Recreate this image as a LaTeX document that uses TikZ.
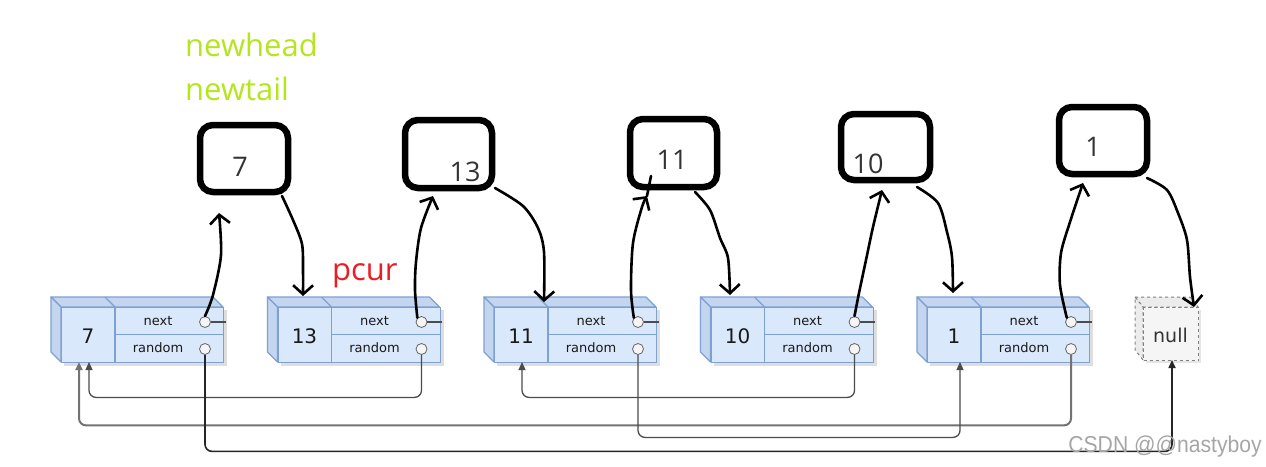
\documentclass[tikz,border=0pt]{standalone}
\usepackage{fontspec}
\setmainfont{Open Sans}
\newfontfamily\cellfont{DejaVu Sans}
\newfontfamily\wmfont{Liberation Sans}
\usetikzlibrary{arrows.meta,calc}
\definecolor{cellfill}{HTML}{DAE8FC}
\definecolor{cellside}{HTML}{C3D5EF}
\definecolor{celledge}{HTML}{7EA1D3}
\definecolor{lime}{HTML}{B5E61D}
\definecolor{pred}{HTML}{ED1C24}
\tikzset{
 front/.style={draw=celledge, fill=cellfill, line width=1.2pt, minimum width=162pt, minimum height=55pt, inner sep=0pt, anchor=north west},
 side/.style={fill=cellside, draw=celledge, line width=1.2pt, line join=round},
 valtxt/.style={font=\cellfont\fontsize{20}{24}\selectfont, text=black!90},
 fldtxt/.style={font=\cellfont\fontsize{13}{15}\selectfont, text=black!90},
 ptr/.style={circle, draw=black!60, fill=gray!8, minimum size=11pt, inner sep=0pt, line width=0.8pt},
 ubox/.style={draw=black, line width=6.5pt, rounded corners=13pt, inner sep=0pt},
 utxt/.style={font=\fontsize{27}{30}\selectfont, text=black!80},
 hand/.style={draw=black, line width=2.6pt, line cap=round, line join=round, -{Straight Barb[length=9pt,width=20pt]}},
 rlink/.style={draw=black!70, line width=1.3pt, rounded corners=7pt, -{Triangle[length=8pt,width=7pt]}},
}
\newcommand\mkcell[3]{%
 \fill[black!25, opacity=0.5] (#2+3,310) rectangle (#2+166,366);
 \draw[side] (#2-10,297) -- (#2+152,297) -- (#2+162,307) -- (#2,307) -- cycle;
 \draw[side] (#2-10,297) -- (#2,307) -- (#2,362) -- (#2-10,352) -- cycle;
 \draw[celledge, line width=1.2pt] (#2+44,297) -- (#2+54,307);
 \node[front] (#1) at (#2,307) {};
 \draw[celledge, line width=1.2pt] (#2+54,307) -- (#2+54,362) (#2+54,334.5) -- (#2+162,334.5);
 \node[valtxt] (#1v) at (#2+27,336) {#3};
 \node[fldtxt] (#1nt) at (#2+97,321) {next};
 \node[fldtxt] (#1rt) at (#2+97,348) {random};
 \node[ptr] (#1n) at (#2+144,322) {};
 \node[ptr] (#1r) at (#2+144,349) {};
 \draw[black!70, line width=1.2pt] (#1n.east) -- ++(15,0);
}
\begin{document}
\begin{tikzpicture}[x=1pt,y=-1pt]
\useasboundingbox (0,0) rectangle (1266,466);
\fill[white] (0,0) rectangle (1266,466);

% labels
\node[anchor=base west, text=lime, font=\fontsize{31}{36}\selectfont, inner sep=0pt] (nh) at (185,56) {newhead};
\node[anchor=base west, text=lime, font=\fontsize{31}{36}\selectfont, inner sep=0pt] (nt) at (185,100) {newtail};
\node[anchor=base west, text=pred, font=\fontsize{31}{36}\selectfont, inner sep=0pt] (pc) at (332,280) {pcur};

% list cells
\mkcell{c7}{61}{7}
\mkcell{c13}{277.5}{13}
\mkcell{c11}{494}{11}
\mkcell{c10}{710.5}{10}
\mkcell{c1}{927}{1}

% null cell
\fill[black!25, opacity=0.4] (1146,310) rectangle (1201,363);
\draw[fill=gray!15, draw=gray, dashed, line width=1pt] (1135,297) -- (1190,297) -- (1198,307) -- (1143,307) -- cycle;
\draw[fill=gray!15, draw=gray, dashed, line width=1pt] (1135,297) -- (1143,307) -- (1143,360) -- (1135,350) -- cycle;
\node[draw=gray, dashed, fill=gray!8, line width=1pt, minimum width=55pt, minimum height=53pt, inner sep=0pt, anchor=north west] (cnull) at (1143,307) {};
\node[font=\cellfont\fontsize{19}{22}\selectfont, text=black!80] (cnullt) at (1170.5,335) {null};

% random links
\coordinate (a7a) at (79,362);
\coordinate (a7b) at (89,362);
\coordinate (a11) at (522,362);
\coordinate (a1) at (960,362);
\coordinate (anull) at (1172,360);
\draw[rlink] (c13r.south) -- ++(0,42.5) -| (a7b);
\draw[rlink, draw=black!55, line width=2pt] (c1r.south) -- ++(0,70.5) -| (a7a);
\draw[rlink] (c10r.south) -- ++(0,42.5) -| (a11);
\draw[rlink] (c11r.south) -- ++(0,82.5) -| (a1);
\draw[rlink, draw=black!85, line width=1.6pt] (c7r.south) -- ++(0,96.5) -| (anull);

% copied nodes
\node[ubox, minimum width=88pt, minimum height=67pt] (u7) at (244,158.5) {};
\node[ubox, minimum width=87pt, minimum height=68pt] (u13) at (448.5,154) {};
\node[ubox, minimum width=87pt, minimum height=68pt] (u11) at (673.5,153) {};
\node[ubox, minimum width=89pt, minimum height=66pt] (u10) at (885.5,147) {};
\node[ubox, minimum width=88pt, minimum height=67pt] (u1) at (1103,140.5) {};
\node[utxt] (u7t) at (240,167) {7};
\node[utxt] (u13t) at (465,172) {13};
\node[utxt] (u11t) at (672,160) {11};
\node[utxt] (u10t) at (868,164) {10};
\node[utxt] (u1t) at (1093,147) {1};

% hand drawn links
\coordinate (t1) at (219,213);
\coordinate (s2) at (282,196);
\coordinate (t2) at (303,296);
\coordinate (t3) at (433,196);
\coordinate (s4) at (495,188);
\coordinate (t4) at (544,302);
\coordinate (t5) at (647,196);
\coordinate (e5) at (651,176);
\coordinate (s6) at (695,192);
\coordinate (t6) at (730,295);
\coordinate (t7) at (882,190);
\coordinate (s8) at (917,187);
\coordinate (t8) at (953,293);
\coordinate (t9) at (1083,183);
\coordinate (s10) at (1147,178);
\coordinate (t10) at (1194,307);

\draw[hand] plot[smooth] coordinates {(c7n.north) (213,295) (221,255) (t1)};
\draw[hand] plot[smooth] coordinates {(s2) (293,220) (302,244) (303,270) (t2)};
\draw[hand] plot[smooth] coordinates {(c13n.north west) (415,290) (416,262) (421,228) (t3)};
\draw[hand] plot[smooth] coordinates {(s4) (523,206) (538,228) (544,252) (t4)};
\draw[hand] plot[smooth] coordinates {(c11n.north west) (631,290) (633,243) (642,207) (t5)};
\draw[draw=black, line width=2.6pt, line cap=round] (t5) -- (e5);
\draw[hand] plot[smooth] coordinates {(s6) (710,210) (720,238) (728,258) (t6)};
\draw[hand] plot[smooth] coordinates {(c10n.north) (859,293) (866,260) (873,227) (t7)};
\draw[hand] plot[smooth] coordinates {(s8) (938,203) (947,232) (952,257) (t8)};
\draw[hand] plot[smooth] coordinates {(c1n.north west) (1060,285) (1061,253) (1070,222) (t9)};
\draw[hand] plot[smooth] coordinates {(s10) (1167,190) (1178,213) (1187,240) (1190,277) (t10)};

% watermark
\node[anchor=base east, text=black!35, font=\wmfont\fontsize{23}{26}\selectfont, xscale=0.92, inner sep=0pt] (wm) at (1262,452) {CSDN @@nastyboy};
\end{tikzpicture}
\end{document}
